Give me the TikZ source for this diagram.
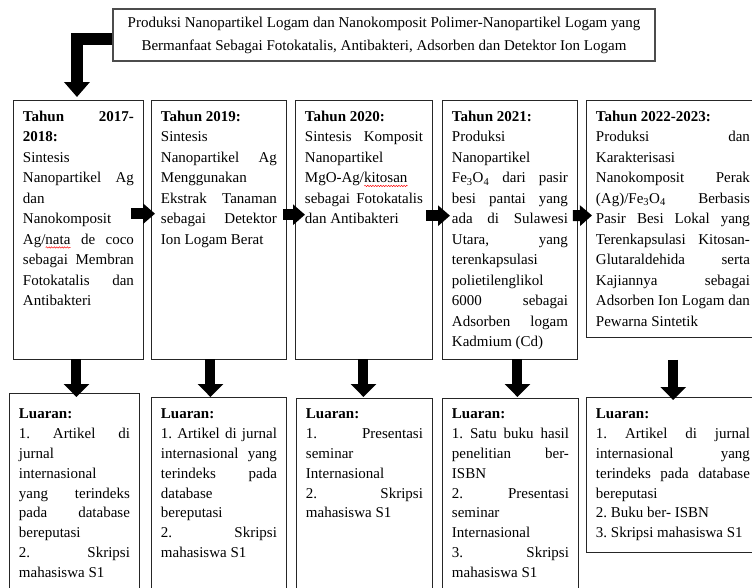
\documentclass[tikz,border=0pt]{standalone}
\usepackage{fontspec}
\setmainfont{Liberation Serif}
\usetikzlibrary{arrows.meta,decorations.pathmorphing}
\newcommand\jline[1]{\hbox to\linewidth{\frenchspacing\spaceskip=3pt plus 1fill\relax\vrule height14pt depth0pt width0pt\relax #1}}
\newcommand\lline[1]{\hbox to\linewidth{\frenchspacing\vrule height14pt depth0pt width0pt\relax #1\hfil}}
\newcommand\btext[5]{\parbox[c][#1][t]{#2}{\fontsize{15}{#3}\selectfont\vspace*{#4}#5}}
\newsavebox\sqbox
\newcommand\sq[1]{\sbox\sqbox{#1}\rlap{\usebox\sqbox}\raisebox{-3pt}{\tikz[x=1pt,y=1pt,baseline=0pt]{\draw[red,line width=0.45pt,decorate,decoration={snake,amplitude=0.7pt,segment length=2.6pt}] (0,0) -- (\wd\sqbox,0);}}}
\begin{document}
\begin{tikzpicture}[x=1pt,y=-1pt,
 tbox/.style={draw=black!85, line width=0.9pt, fill=white, anchor=north west, inner xsep=9.5pt, inner ysep=0pt},
 wbox/.style={tbox, inner xsep=0pt},
 topbox/.style={draw=black!70, line width=1.3pt, fill=white, minimum width=542pt, minimum height=52pt, inner sep=0pt, align=center, font=\fontsize{15}{23}\selectfont},
 harrow/.style={line width=11pt, -{Triangle[width=20pt,length=12pt]}},
 varrow/.style={line width=10pt, -{Triangle[width=25pt,length=13pt]}},
 larrow/.style={line width=12pt, -{Triangle[width=25pt,length=15pt]}},
]
\useasboundingbox (0,0) rectangle (752,587);
\clip (0,0) rectangle (752,587);
\fill[white] (0,0) rectangle (752,587);

\node[topbox] (top) at (384,35) {Produksi Nanopartikel Logam dan Nanokomposit Polimer-Nanopartikel Logam yang\\Bermanfaat Sebagai Fotokatalis, Antibakteri, Adsorben dan Detektor Ion Logam};

% row 1
\node[tbox] (t1) at (13,100) {\btext{258.5pt}{111pt}{20.5}{7pt}{%
\jline{\bfseries Tahun 2017-}
\lline{\bfseries 2018:}
\lline{Sintesis}
\jline{Nanopartikel Ag}
\lline{dan}
\lline{Nanokomposit}
\jline{Ag/\sq{nata} de coco}
\jline{sebagai Membran}
\jline{Fotokatalis dan}
\lline{Antibakteri}}};

\node[tbox] (t2) at (151,100) {\btext{258.5pt}{116pt}{20.5}{7pt}{%
\lline{\bfseries Tahun 2019:}
\lline{Sintesis}
\jline{Nanopartikel Ag}
\lline{Menggunakan}
\jline{Ekstrak Tanaman}
\jline{sebagai Detektor}
\lline{Ion Logam Berat}}};

\node[tbox] (t3) at (295,100) {\btext{258.5pt}{118pt}{20.5}{7pt}{%
\lline{\bfseries Tahun 2020:}
\jline{Sintesis Komposit}
\lline{Nanopartikel}
\lline{MgO-Ag/\sq{kitosan}}
\jline{sebagai Fotokatalis}
\lline{dan Antibakteri}}};

\node[tbox] (t4) at (442,100) {\btext{258.5pt}{116pt}{20.5}{7pt}{%
\lline{\bfseries Tahun 2021:}
\lline{Produksi}
\lline{Nanopartikel}
\jline{Fe\textsubscript{3}O\textsubscript{4} dari pasir}
\jline{besi pantai yang}
\jline{ada di Sulawesi}
\jline{Utara, yang}
\lline{terenkapsulasi}
\lline{polietilenglikol}
\jline{6000 sebagai}
\jline{Adsorben logam}
\lline{Kadmium (Cd)}}};

\node[wbox] (t5) at (586,100) {\rule{9.5pt}{0pt}\btext{237pt}{154pt}{20.5}{7pt}{%
\lline{\bfseries Tahun 2022-2023:}
\jline{Produksi dan}
\lline{Karakterisasi}
\jline{Nanokomposit Perak}
\jline{(Ag)/Fe\textsubscript{3}O\textsubscript{4} Berbasis}
\jline{Pasir Besi Lokal yang}
\jline{Terenkapsulasi Kitosan-}
\jline{Glutaraldehida serta}
\jline{Kajiannya sebagai}
\jline{Adsorben Ion Logam dan}
\lline{Pewarna Sintetik}}\rule{14pt}{0pt}};

% row 2
\node[tbox] (o1) at (9,393) {\btext{210pt}{111pt}{19.9}{11pt}{%
\lline{\bfseries Luaran:}
\jline{1. Artikel di}
\lline{jurnal}
\lline{internasional}
\jline{yang terindeks}
\jline{pada database}
\lline{bereputasi}
\jline{2. Skripsi}
\lline{mahasiswa S1}}};

\node[tbox] (o2) at (151,397) {\btext{206pt}{116pt}{19.9}{7pt}{%
\lline{\bfseries Luaran:}
\jline{1. Artikel di jurnal}
\jline{internasional yang}
\jline{terindeks pada}
\lline{database}
\lline{bereputasi}
\jline{2. Skripsi}
\lline{mahasiswa S1}}};

\node[tbox] (o3) at (296,398) {\btext{205pt}{117pt}{19.9}{6pt}{%
\lline{\bfseries Luaran:}
\jline{1. Presentasi}
\lline{seminar}
\lline{Internasional}
\jline{2. Skripsi}
\lline{mahasiswa S1}}};

\node[tbox] (o4) at (442,398) {\btext{205pt}{117pt}{19.9}{6pt}{%
\lline{\bfseries Luaran:}
\jline{1. Satu buku hasil}
\jline{penelitian ber-}
\lline{ISBN}
\jline{2. Presentasi}
\lline{seminar}
\lline{Internasional}
\jline{3. Skripsi}
\lline{mahasiswa S1}}};

\node[wbox] (o5) at (586,397) {\rule{9.5pt}{0pt}\btext{155pt}{154pt}{19.9}{7pt}{%
\lline{\bfseries Luaran:}
\jline{1. Artikel di jurnal}
\jline{internasional yang}
\jline{terindeks pada database}
\lline{bereputasi}
\lline{2. Buku ber- ISBN}
\lline{3. Skripsi mahasiswa S1}}\rule{14pt}{0pt}};

% arrows
\draw[larrow] ([shift={(0,4)}]top.west) -| ([shift={(-1.5,-3)}]t1.north);

\draw[harrow] ([shift={(-13,-16)}]t1.east) -- ([shift={(4,-16)}]t2.west);
\draw[harrow] ([shift={(-4,-15)}]t2.east) -- ([shift={(10,-15)}]t3.west);
\draw[harrow] ([shift={(-7,-14)}]t3.east) -- ([shift={(8,-14)}]t4.west);
\draw[harrow] ([shift={(-5,-14)}]t4.east) -- ([shift={(6,-3.5)}]t5.west);

\draw[varrow] ([shift={(-2,0)}]t1.south) -- ([shift={(2,4)}]o1.north);
\draw[varrow] ([shift={(-8.5,0)}]t2.south) -- ([shift={(-8.5,0)}]o2.north);
\draw[varrow] ([shift={(-0.5,0)}]t3.south) -- ([shift={(-1,-1)}]o3.north);
\draw[varrow] ([shift={(7.5,0)}]t4.south) -- ([shift={(7,-1)}]o4.north);
\draw[varrow] ([shift={(-2,22)}]t5.south) -- ([shift={(-2,3)}]o5.north);
\end{tikzpicture}
\end{document}
